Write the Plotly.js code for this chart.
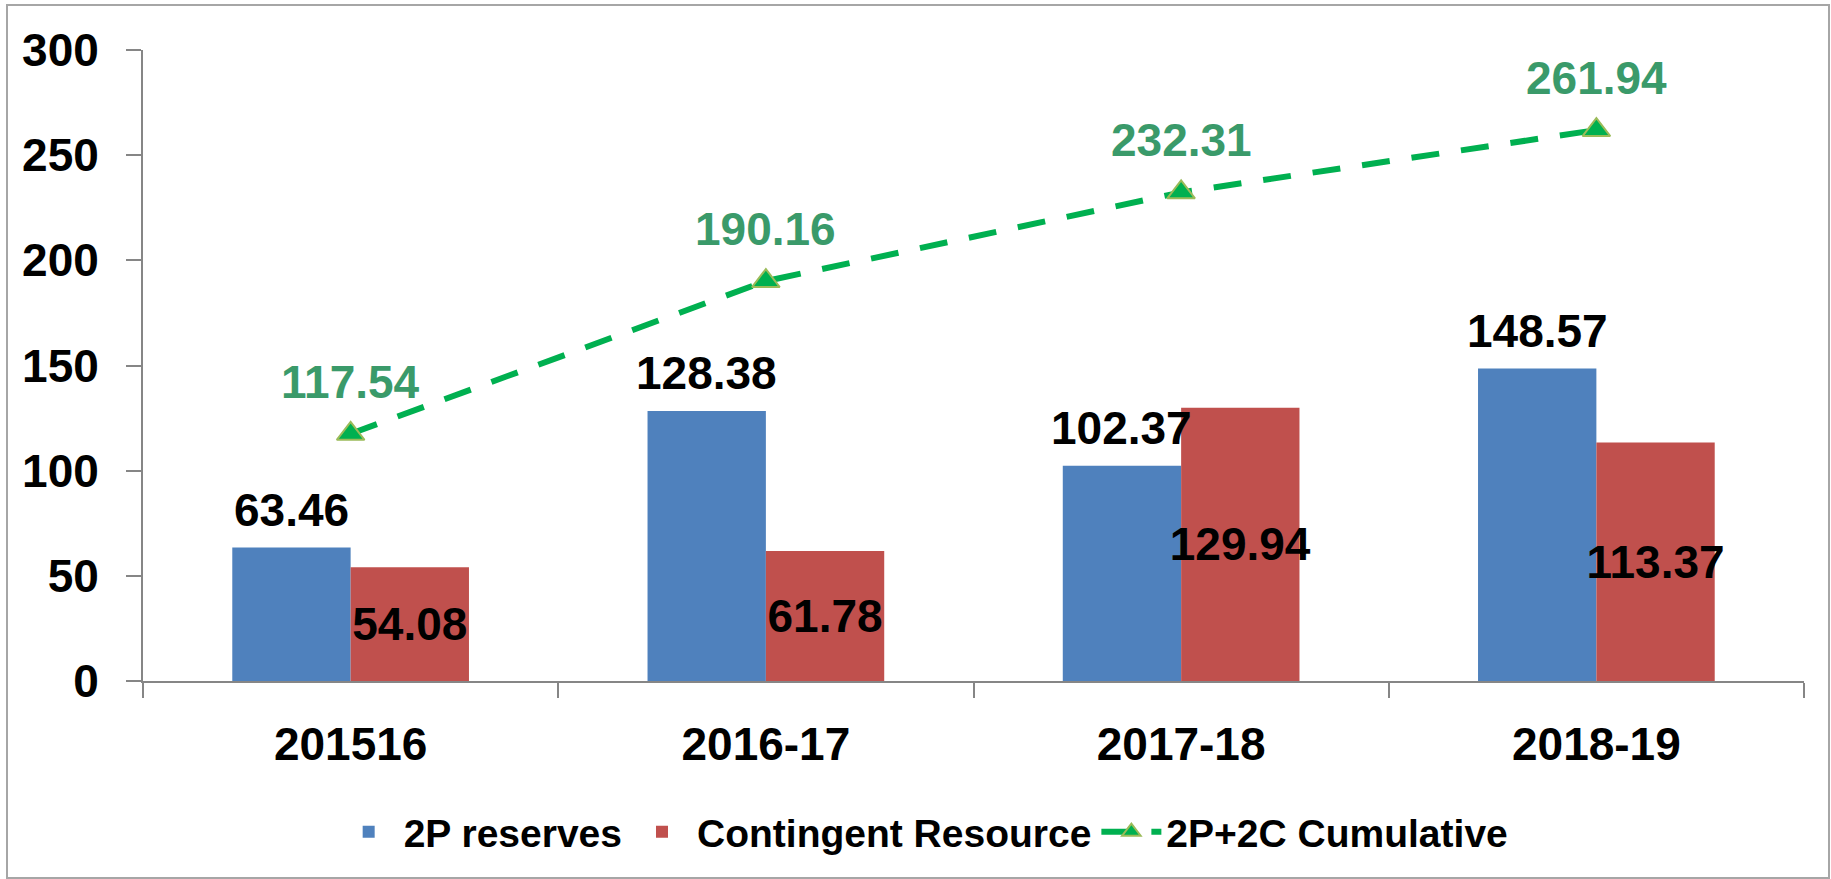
<!DOCTYPE html>
<html>
<head>
<meta charset="utf-8">
<script src="https://cdn.plot.ly/plotly-3.0.1.min.js"></script>
<style>
  html, body { margin: 0; padding: 0; background: #fff; }
  #wrap { position: relative; width: 1831px; height: 879px; }
  #chart { position: absolute; left: 0; top: 0; width: 1831px; height: 879px; }
  #frame { position: absolute; left: 6px; top: 4px; width: 1820px; height: 871px; border: 2px solid #a6a6a6; pointer-events: none; }
</style>
</head>
<body>
<div id="wrap">
  <div id="chart"></div>
  <div id="frame"></div>
</div>
<script>
const categories = ['201516', '2016-17', '2017-18', '2018-19'];
const reserves2P = [63.46, 128.38, 102.37, 148.57];
const contingent = [54.08, 61.78, 129.94, 113.37];
const cumulative = [117.54, 190.16, 232.31, 261.94];
const seriesNames = ['2P reserves', 'Contingent Resource', '2P+2C Cumulative'];
const yTicks = [0, 50, 100, 150, 200, 250, 300];

const FONT = '"Liberation Sans", Arial, sans-serif';
const BARGAP = 0.43;
const blueOffset = (1 - BARGAP) / 4; // centre of first bar in a 2-bar group, in category units

const traces = [
  {
    type: 'bar', name: seriesNames[0], x: categories, y: reserves2P,
    marker: { color: '#4F81BD' }, cliponaxis: false, hoverinfo: 'none'
  },
  {
    type: 'bar', name: seriesNames[1], x: categories, y: contingent,
    marker: { color: '#C0504D' },
    text: contingent.map(v => v.toFixed(2)), textposition: 'inside', insidetextanchor: 'middle',
    textfont: { family: FONT, size: 46, color: '#000', weight: 'bold' },
    constraintext: 'none', cliponaxis: false, textangle: 0, hoverinfo: 'none'
  },
  {
    type: 'scatter', mode: 'lines+markers', name: seriesNames[2], x: categories, y: cumulative,
    line: { color: '#00B050', width: 6, dash: '28px,22px' },
    marker: { symbol: 'triangle-up', size: 24, color: '#00B050', line: { color: '#9BBB59', width: 2 } },
    cliponaxis: false, hoverinfo: 'none'
  }
];

const cumLabels = categories.map((c, i) => ({
  x: i, y: cumulative[i], xref: 'x', yref: 'y',
  text: cumulative[i].toFixed(2), showarrow: false, yshift: 52,
  font: { family: FONT, size: 46, color: '#3A9A6A', weight: 'bold' }
}));
const reserveLabels = categories.map((c, i) => ({
  x: i - blueOffset, y: reserves2P[i], xref: 'x', yref: 'y',
  text: reserves2P[i].toFixed(2), showarrow: false, yshift: 38,
  font: { family: FONT, size: 46, color: '#000', weight: 'bold' }
}));

const layout = {
  width: 1831, height: 879,
  margin: { l: 143, r: 27, t: 50, b: 198 },
  paper_bgcolor: '#fff', plot_bgcolor: '#fff',
  barmode: 'group', bargap: BARGAP, bargroupgap: 0,
  showlegend: true,
  legend: {
    orientation: 'h', x: 0.47, xanchor: 'center', y: -0.239, yanchor: 'middle',
    font: { family: FONT, size: 39, color: '#000', weight: 'bold' },
    traceorder: 'normal', itemwidth: 60
  },
  xaxis: {
    type: 'category', range: [-0.5, categories.length - 0.5], autorange: false,
    showgrid: false, zeroline: false,
    showline: true, linecolor: '#868686', linewidth: 2,
    ticks: 'outside', tickson: 'boundaries', ticklen: 15, tickcolor: '#868686', tickwidth: 2,
    ticklabelstandoff: 22,
    tickfont: { family: FONT, size: 46, color: '#000', weight: 'bold' }
  },
  yaxis: {
    range: [0, 300], autorange: false, tickvals: yTicks, ticktext: yTicks.map(String),
    showgrid: false, zeroline: false,
    showline: true, linecolor: '#868686', linewidth: 2,
    ticks: 'outside', ticklen: 15, tickcolor: '#868686', tickwidth: 2,
    ticklabelstandoff: 18,
    tickfont: { family: FONT, size: 46, color: '#000', weight: 'bold' }
  },
  annotations: cumLabels.concat(reserveLabels)
};

Plotly.newPlot('chart', traces, layout, { staticPlot: true, displayModeBar: false });
</script>
</body>
</html>
